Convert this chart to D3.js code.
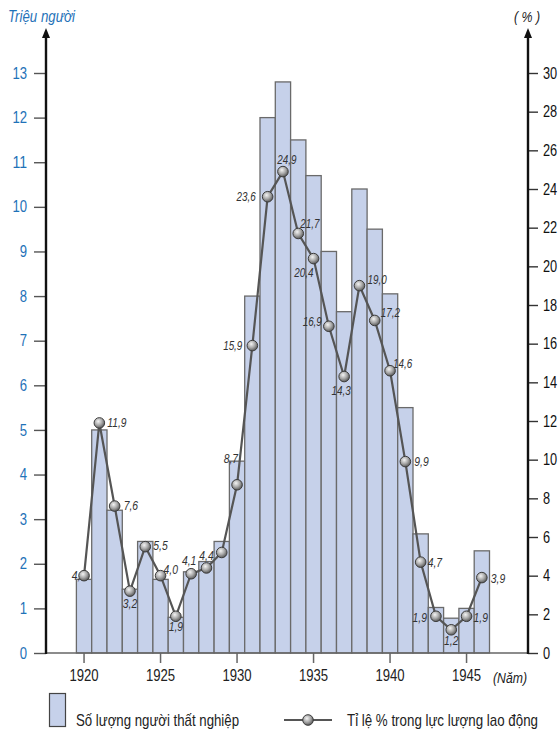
<!DOCTYPE html>
<html>
<head>
<meta charset="utf-8">
<script src="https://cdn.jsdelivr.net/npm/d3@7.9.0/dist/d3.min.js"></script>
<style>
  body { margin: 0; background: #fff; }
  svg { display: block; font-family: "Liberation Sans", Arial, sans-serif; }
</style>
</head>
<body>
<svg width="560" height="731"></svg>
<script>
// years shown on the chart
const years = d3.range(1920, 1947);
// unemployed people, millions
const unemployed = [1.65, 5.0, 3.2, 1.43, 2.5, 1.65, 0.8, 1.82, 2.05, 2.5, 4.3, 8.0, 12.0, 12.8, 11.5, 10.7, 9.0, 7.65, 10.4, 9.5, 8.05, 5.5, 2.67, 1.02, 0.78, 1.0, 2.29];
// share of labour force, %
const rate = [4.0, 11.9, 7.6, 3.2, 5.5, 4.0, 1.9, 4.1, 4.4, 5.2, 8.7, 15.9, 23.6, 24.9, 21.7, 20.4, 16.9, 14.3, 19.0, 17.2, 14.6, 9.9, 4.7, 1.9, 1.2, 1.9, 3.9];
const rateLabels = ["4,0", "11,9", "7,6", "3,2", "5,5", "4,0", "1,9", "4,1", "4,4", "", "8,7", "15,9", "23,6", "24,9", "21,7", "20,4", "16,9", "14,3", "19,0", "17,2", "14,6", "9,9", "4,7", "1,9", "1,2", "1,9", "3,9"];
const leftTicks = d3.range(0, 14);
const rightTicks = d3.range(0, 31, 2);
const yearTicks = [1920, 1925, 1930, 1935, 1940, 1945];

// label offsets from each point: dx, dy, anchor
const labelOff = [
  [2, 4, 'end'], [8, 4, 'start'], [9, 4, 'start'], [0, 17, 'middle'], [8, 3, 'start'],
  [3, -2, 'start'], [0, 15, 'middle'], [-2, -9, 'middle'], [0, -8, 'middle'], null,
  [1, -22, 'end'], [-10, 4, 'end'], [-12, 4, 'end'], [4, -8, 'middle'], [2, -5, 'start'],
  [0, 18, 'end'], [-7, 0, 'end'], [-3, 18, 'middle'], [8, -2, 'start'], [6, -3, 'start'],
  [3, -3, 'start'], [9, 4, 'start'], [7, 5, 'start'], [-9, 6, 'end'], [0, 15, 'middle'],
  [7, 6, 'start'], [9, 5, 'start']
];

const svg = d3.select('svg');
const blue = '#1f72b8';
const barFill = '#c6d1ea';

// narrow-looking text: squeeze glyphs to the width of the original condensed face
const narrow = (sel, perChar) => sel
  .attr('textLength', function () { return this.textContent.length * perChar; })
  .attr('lengthAdjust', 'spacingAndGlyphs');

const x = d3.scaleBand().domain(years).range([76.4, 489.5]).padding(0);
const yL = d3.scaleLinear().domain([0, 13]).range([653, 73]);
const yR = d3.scaleLinear().domain([0, 30]).range([653, 73]);
const cx = (yr) => x(yr) + x.bandwidth() / 2;

// gradient for the round markers
const defs = svg.append('defs');
const grad = defs.append('radialGradient').attr('id', 'ball')
  .attr('cx', '40%').attr('cy', '35%').attr('r', '65%');
grad.append('stop').attr('offset', '0%').attr('stop-color', '#f4f4f4');
grad.append('stop').attr('offset', '55%').attr('stop-color', '#a8a8a8');
grad.append('stop').attr('offset', '100%').attr('stop-color', '#5a5a5a');

// bars
svg.append('g').selectAll('rect')
  .data(years)
  .join('rect')
  .attr('x', (d) => x(d))
  .attr('y', (d, i) => yL(unemployed[i]))
  .attr('width', x.bandwidth())
  .attr('height', (d, i) => yL(0) - yL(unemployed[i]))
  .attr('fill', barFill)
  .attr('stroke', '#6a6a6a')
  .attr('stroke-width', 1.3);

// x axis
const xAxis = svg.append('g').attr('transform', 'translate(0,653)')
  .call(d3.axisBottom(x).tickValues(yearTicks).tickSize(10).tickPadding(7));
xAxis.select('.domain').remove();
xAxis.selectAll('line').attr('stroke', '#666').attr('stroke-width', 1.5);
xAxis.selectAll('text').attr('font-size', 16).attr('fill', '#222').attr('font-family', null)
  .call(narrow, 7.3);
svg.append('line').attr('x1', 46).attr('x2', 528).attr('y1', 653).attr('y2', 653)
  .attr('stroke', '#666').attr('stroke-width', 1.6);
svg.append('text').attr('x', 493).attr('y', 683).attr('font-size', 14)
  .attr('font-style', 'italic').attr('fill', '#222')
  .attr('textLength', 34).attr('lengthAdjust', 'spacingAndGlyphs').text('(Năm)');

// left axis
const left = svg.append('g').attr('transform', 'translate(46,0)')
  .call(d3.axisLeft(yL).tickValues(leftTicks).tickSize(12).tickPadding(7));
left.select('.domain').remove();
left.selectAll('line').attr('stroke', '#555').attr('stroke-width', 1.4);
left.selectAll('text').attr('font-size', 16).attr('fill', blue).attr('font-family', null)
  .call(narrow, 7.3);

// right axis
const right = svg.append('g').attr('transform', 'translate(528,0)')
  .call(d3.axisRight(yR).tickValues(rightTicks).tickSize(10).tickPadding(5));
right.select('.domain').remove();
right.selectAll('line').attr('stroke', '#333').attr('stroke-width', 1.4);
right.selectAll('text').attr('font-size', 16).attr('fill', '#111').attr('font-family', null)
  .call(narrow, 7.1);

// axis lines with arrows
[46, 528].forEach((ax) => {
  svg.append('line').attr('x1', ax).attr('x2', ax).attr('y1', 654).attr('y2', 36)
    .attr('stroke', '#111').attr('stroke-width', 2.4);
  svg.append('path')
    .attr('d', `M${ax},28 L${ax - 4},38 L${ax + 4},38 Z`)
    .attr('fill', '#111');
});

svg.append('text').attr('x', 8).attr('y', 22).attr('font-size', 16)
  .attr('font-style', 'italic').attr('fill', blue)
  .attr('textLength', 67).attr('lengthAdjust', 'spacingAndGlyphs').text('Triệu người');
svg.append('text').attr('x', 514).attr('y', 22).attr('font-size', 14)
  .attr('font-style', 'italic').attr('fill', '#222')
  .attr('textLength', 26).attr('lengthAdjust', 'spacingAndGlyphs').text('( % )');

// rate line
const line = d3.line().x((d, i) => cx(years[i])).y((d) => yR(d));
svg.append('path').datum(rate)
  .attr('d', line)
  .attr('fill', 'none')
  .attr('stroke', '#555')
  .attr('stroke-width', 2.2);

// value labels
const labG = svg.append('g');
rateLabels.forEach((lab, i) => {
  if (!lab) return;
  const o = labelOff[i];
  labG.append('text')
    .attr('x', cx(years[i]) + o[0])
    .attr('y', yR(rate[i]) + o[1])
    .attr('text-anchor', o[2])
    .attr('font-size', 13)
    .attr('font-style', 'italic')
    .attr('fill', '#333')
    .attr('textLength', lab.length * 4.8)
    .attr('lengthAdjust', 'spacingAndGlyphs')
    .text(lab);
});

// markers
svg.append('g').selectAll('circle')
  .data(rate)
  .join('circle')
  .attr('cx', (d, i) => cx(years[i]))
  .attr('cy', (d) => yR(d))
  .attr('r', 5.3)
  .attr('fill', 'url(#ball)')
  .attr('stroke', '#3c3c3c')
  .attr('stroke-width', 1);

// legend
const lg = svg.append('g');
lg.append('rect').attr('x', 49.5).attr('y', 693.5).attr('width', 16).attr('height', 33)
  .attr('fill', barFill).attr('stroke', '#444').attr('stroke-width', 1.2);
lg.append('text').attr('x', 76).attr('y', 726).attr('font-size', 17).attr('fill', '#222')
  .attr('textLength', 163).attr('lengthAdjust', 'spacingAndGlyphs')
  .text('Số lượng người thất nghiệp');
lg.append('line').attr('x1', 284).attr('x2', 332).attr('y1', 720).attr('y2', 720)
  .attr('stroke', '#555').attr('stroke-width', 2.2);
lg.append('circle').attr('cx', 308).attr('cy', 720).attr('r', 5.3)
  .attr('fill', 'url(#ball)').attr('stroke', '#3c3c3c');
lg.append('text').attr('x', 347).attr('y', 726).attr('font-size', 17).attr('fill', '#222')
  .attr('textLength', 191).attr('lengthAdjust', 'spacingAndGlyphs')
  .text('Tỉ lệ % trong lực lượng lao động');
</script>
</body>
</html>
